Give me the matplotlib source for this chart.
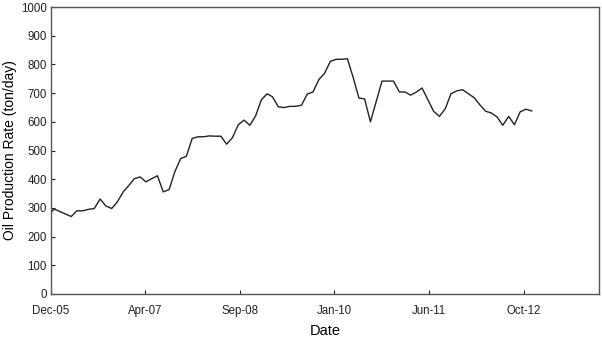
import matplotlib
matplotlib.use("Agg")
import matplotlib.pyplot as plt
import pandas as pd

plt.rcParams['font.family'] = ['Liberation Sans', 'DejaVu Sans']

dates = ["2005-12-15", "2006-01-01", "2006-04-01", "2006-05-01", "2006-06-01", "2006-07-01",
         "2006-08-01", "2006-09-01", "2006-10-01", "2006-11-01", "2006-12-01",
         "2007-01-01", "2007-02-01", "2007-03-01", "2007-04-01", "2007-05-01", "2007-06-01",
         "2007-07-01", "2007-08-01", "2007-09-01", "2007-10-01", "2007-11-01", "2007-12-01",
         "2008-01-01", "2008-02-01", "2008-03-01", "2008-04-01", "2008-05-01", "2008-06-01",
         "2008-07-01", "2008-08-01", "2008-09-01", "2008-10-01", "2008-11-01", "2008-12-01",
         "2009-01-01", "2009-02-01", "2009-03-01", "2009-04-01", "2009-05-01", "2009-06-01",
         "2009-07-01", "2009-08-01", "2009-09-01", "2009-10-01", "2009-11-01", "2009-12-01",
         "2010-01-01", "2010-02-01", "2010-03-01", "2010-04-01", "2010-05-01", "2010-06-01",
         "2010-07-01", "2010-08-01", "2010-10-01", "2010-11-01", "2010-12-01",
         "2011-01-01", "2011-02-01", "2011-03-01", "2011-04-01", "2011-05-01", "2011-06-01",
         "2011-07-01", "2011-08-01", "2011-09-01", "2011-10-01", "2011-11-01", "2011-12-01",
         "2012-01-01", "2012-02-01", "2012-03-01", "2012-04-01", "2012-05-01", "2012-06-01",
         "2012-07-01", "2012-08-01", "2012-09-01", "2012-10-01", "2012-11-01", "2012-12-01"]

rates = [285, 296, 270, 290, 290, 295,
         298, 331, 307, 298, 321,
         356, 379, 402, 408, 391, 402,
         412, 356, 364, 426, 472, 480,
         542, 548, 548, 551, 550, 550,
         522, 545, 590, 606, 588, 620,
         677, 698, 687, 652, 650, 654,
         654, 658, 697, 704, 747, 769,
         811, 818, 818, 820, 756, 683,
         680, 600, 742, 742, 742,
         704, 704, 693, 704, 718, 677,
         637, 619, 646, 698, 708, 712,
         698, 684, 660, 637, 631, 617,
         588, 619, 590, 635, 644, 638]

tick_dates = ["2005-12-15", "2007-04-28", "2008-09-09", "2010-01-22", "2011-06-06", "2012-10-19"]
tick_labels = ["Dec-05", "Apr-07", "Sep-08", "Jan-10", "Jun-11", "Oct-12"]
x_limits = ["2005-12-15", "2013-11-22"]
y_ticks = [0, 100, 200, 300, 400, 500, 600, 700, 800, 900, 1000]

x = pd.to_datetime(dates)

fig = plt.figure(figsize=(6.02, 3.37), dpi=100)
ax = fig.add_axes([0.0847, 0.1276, 0.9103, 0.8514])

ax.plot(x, rates, color='#222222', linewidth=1.0)

ax.set_xlim(pd.to_datetime(x_limits[0]), pd.to_datetime(x_limits[1]))
ax.set_ylim(0, 1000)
ax.set_xticks(pd.to_datetime(tick_dates))
ax.set_xticklabels(tick_labels)
ax.set_yticks(y_ticks)

ax.tick_params(direction='in', length=3, width=0.8, labelsize=8.3, colors='#222222')
ax.tick_params(axis='x', pad=8)
ax.tick_params(axis='y', pad=3)
for s in ax.spines.values():
    s.set_color('#555555')
    s.set_linewidth(1.0)

ax.set_xlabel("Date", fontsize=10.5, labelpad=5)
ax.set_ylabel("Oil Production Rate (ton/day)", fontsize=10, labelpad=3)

fig.savefig("out.png", dpi=100)
